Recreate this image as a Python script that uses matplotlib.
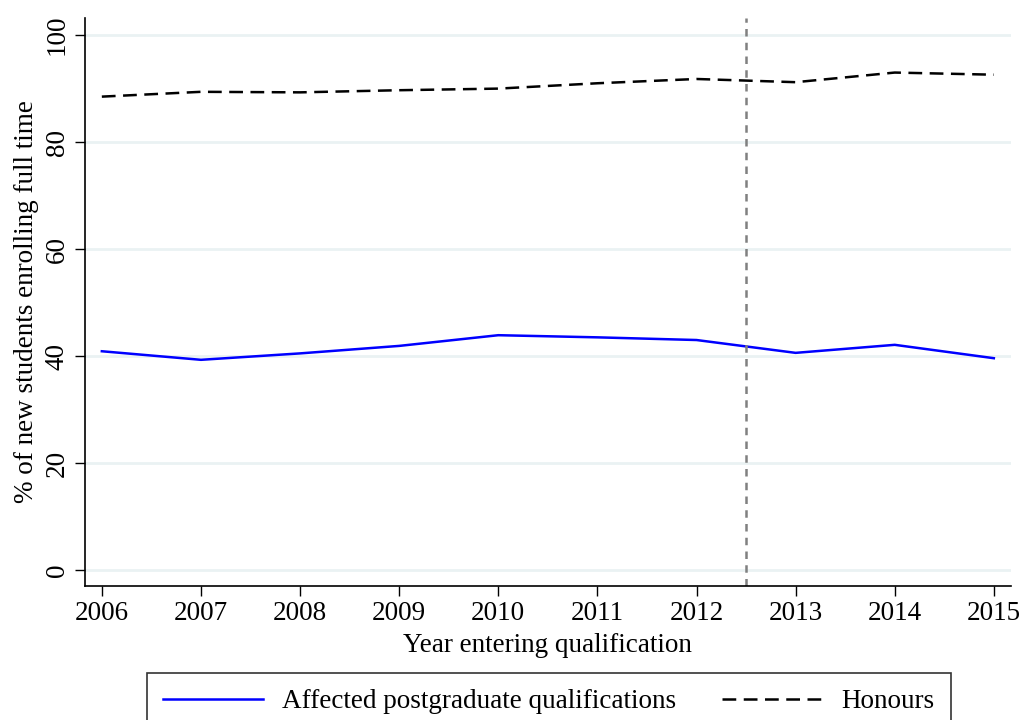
import matplotlib.pyplot as plt

plt.rcParams['font.family'] = ['Liberation Serif', 'DejaVu Serif']

# data
years = [2006, 2007, 2008, 2009, 2010, 2011, 2012, 2013, 2014, 2015]
affected = [40.9, 39.3, 40.5, 41.9, 43.9, 43.5, 43.0, 40.6, 42.1, 39.6]
honours = [88.5, 89.4, 89.3, 89.7, 90.0, 91.0, 91.8, 91.2, 93.0, 92.6]
cutoff = 2012.5
yticks = [0, 20, 40, 60, 80, 100]

fs = 19.5
fig = plt.figure(figsize=(10.24, 7.2), dpi=100)
ax = fig.add_axes([0.083, 0.186, 0.904, 0.789])

for t in yticks:
    ax.axhline(t, color='#eaf2f3', lw=2, zorder=0)

ax.plot(years, affected, color='#0000ff', lw=1.8, label='Affected postgraduate qualifications')
ax.plot(years, honours, color='black', lw=1.8, ls=(0, (5.5, 3)), label='Honours')
ax.axvline(cutoff, color='#808080', lw=1.8, ls=(0, (3, 2.5)))

ax.set_xlim(2005.83, 2015.17)
ax.set_ylim(-3, 103.2)
ax.set_xticks(years)
ax.set_yticks(yticks)
ax.set_yticklabels([str(t) for t in yticks], rotation=90, va='center')
ax.tick_params(labelsize=fs, length=7, width=1, direction='out', pad=4)
for s in ['top', 'right']:
    ax.spines[s].set_visible(False)
ax.spines['left'].set_linewidth(1.2)
ax.spines['bottom'].set_linewidth(1.2)

ax.set_xlabel('Year entering qualification', fontsize=fs, labelpad=5)
ax.set_ylabel('% of new students enrolling full time', fontsize=fs, labelpad=4)

leg = fig.legend(loc='upper center', bbox_to_anchor=(0.536, 0.065), ncol=2, fontsize=fs,
                 frameon=True, fancybox=False, edgecolor='black', handlelength=3.7,
                 handletextpad=0.7, columnspacing=1.7, borderpad=0.6, borderaxespad=0)
leg.get_frame().set_linewidth(1.2)

fig.savefig('out.png', dpi=100)
